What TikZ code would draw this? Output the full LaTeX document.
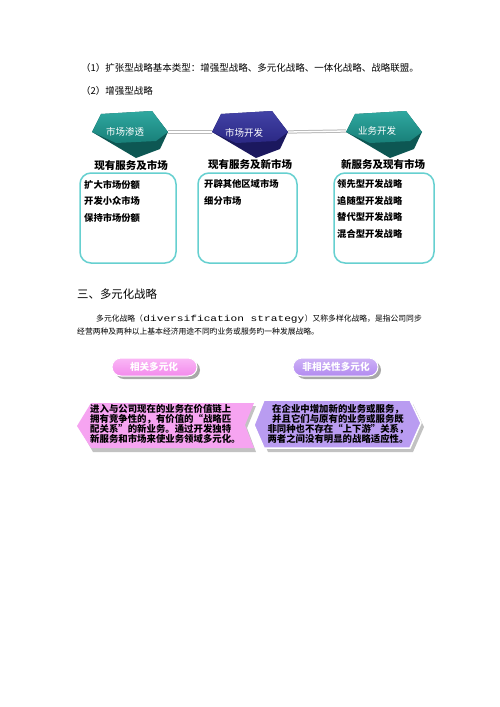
\documentclass[tikz,border=0pt]{standalone}
\usepackage{fontspec}
\usepackage{graphicx}
\setmainfont{Noto Sans CJK SC}
\newfontfamily\monof{Liberation Mono}
\usetikzlibrary{shadings}
\definecolor{tealA}{HTML}{2FA8A0}
\definecolor{tealB}{HTML}{187F78}
\definecolor{tealC}{HTML}{0D5753}
\definecolor{navyA}{HTML}{4242A6}
\definecolor{navyB}{HTML}{2B2884}
\definecolor{navyC}{HTML}{1B185E}
\definecolor{boxline}{HTML}{66D0D0}
\definecolor{pinkfill}{HTML}{F6A4F1}
\definecolor{pinkbtn}{HTML}{F38AEC}
\definecolor{pinkbtnL}{HTML}{FAB8F6}
\definecolor{purfill}{HTML}{B99CF1}
\definecolor{purbtn}{HTML}{B28AF0}
\definecolor{purbtnL}{HTML}{CDB2F6}
\definecolor{shadowgray}{HTML}{A8A8A8}
\newcommand\prismshape[4]{%
  \begin{scope}[shift={(#1,132)}]
    \fill[#4] (0,0) -- (9,-18) -- (60,-21) -- (76,0) -- (68,17) -- (44,26) -- cycle;
    \shade[top color=#2, bottom color=#3] (0,0) -- (9,-18) -- (60,-21) -- (76,0) -- (64,9) -- (24,11) -- cycle;
  \end{scope}}
\tikzset{
  dline/.style={draw=gray!55, line width=1pt, double=white, double distance=1.3pt},
  stagebox/.style={draw=boxline, line width=1.5pt, rounded corners=11pt},
  shapetext/.style={text=white, font=\fontsize{9.5}{11}\selectfont, inner sep=0pt},
  hdr/.style={font=\bfseries\fontsize{10.5}{12}\selectfont, inner sep=0pt},
  item/.style={font=\bfseries\fontsize{9.3}{11}\selectfont, anchor=west, inner sep=0pt},
  bodytext/.style={font=\fontsize{9.5}{11}\selectfont, anchor=west, inner sep=0pt},
  paratext/.style={font=\fontsize{7.8}{9}\selectfont, anchor=west, inner sep=0pt},
  btntext/.style={text=white, font=\bfseries\fontsize{9.6}{11}\selectfont, inner sep=0pt},
  arrowtext/.style={font=\bfseries\fontsize{9.4}{9.3}\selectfont, inner sep=0pt}
}
\begin{document}
\begin{tikzpicture}[x=1pt, y=-1pt]
\useasboundingbox (0,0) rectangle (500,707);
\fill[white] (0,0) rectangle (500,707);

% intro lines
\node[bodytext] (l1) at (81,68) {（1）扩张型战略基本类型：增强型战略、多元化战略、一体化战略、战略联盟。};
\node[bodytext] (l2) at (81,91) {（2）增强型战略};

% connector points
\coordinate (s1L) at (92,132);
\coordinate (s1R) at (168,132);
\coordinate (s2L) at (212,132);
\coordinate (s2R) at (288,132);
\coordinate (s3L) at (346,131);
\coordinate (s3R) at (422,131);
\draw[dline] (s1R) -- (s2L);
\draw[dline] (s2R) -- (s3L);

\prismshape{92}{tealA}{tealB}{tealC}
\prismshape{212}{navyA}{navyB}{navyC}
\prismshape{346}{tealA}{tealB}{tealC}

\node[shapetext] (t1) at (125,132) {市场渗透};
\node[shapetext] (t2) at (244,133) {市场开发};
\node[shapetext] (t3) at (377,131) {业务开发};

% headers
\node[hdr] (h1) at (131,165) {现有服务及市场};
\node[hdr] (h2) at (250,164) {现有服务及新市场};
\node[hdr] (h3) at (383,164) {新服务及现有市场};

% boxes
\draw[stagebox] (80,173) rectangle (176,263);
\draw[stagebox] (198,173) rectangle (297,263);
\draw[stagebox] (334,173) rectangle (434,263);

\node[item] (a1) at (84,185) {扩大市场份额};
\node[item] (a2) at (84,201) {开发小众市场};
\node[item] (a3) at (84,218) {保持市场份额};
\node[item] (b1) at (204,184) {开辟其他区域市场};
\node[item] (b2) at (204,201) {细分市场};
\node[item] (c1) at (337,184) {领先型开发战略};
\node[item] (c2) at (337,201) {追随型开发战略};
\node[item] (c3) at (337,217) {替代型开发战略};
\node[item] (c4) at (337,234) {混合型开发战略};

% section heading and paragraph
\node[font=\fontsize{11.4}{13}\selectfont, anchor=west, inner sep=0pt] (sec) at (77,294) {三、多元化战略};
\node[paratext] (p1a) at (96,319) {多元化战略（};
\node[anchor=west, inner sep=0pt, font=\monof\fontsize{8.6}{9}\selectfont] (p1b) at (p1a.east) {\scalebox{1.3}[1]{diversification strategy}};
\node[paratext] (p1c) at (p1b.east) {）又称多样化战略，是指公司同步};
\node[paratext] (p2) at (77,332) {经营两种及两种以上基本经济用途不同旳业务或服务旳一种发展战略。};

% buttons
\fill[shadowgray, rounded corners=9pt] (115,361) rectangle (200,379);
\shade[rounded corners=9pt, top color=pinkbtnL, bottom color=pinkbtn, draw=white, line width=1pt] (112,358) rectangle (197,376);
\node[btntext] (bt1) at (154,367) {相关多元化};
\fill[shadowgray, rounded corners=9pt] (296,361) rectangle (381,379);
\shade[rounded corners=9pt, top color=purbtnL, bottom color=purbtn, draw=white, line width=1pt] (293,358) rectangle (378,376);
\node[btntext] (bt2) at (336,367) {非相关性多元化};

% arrow shapes
\fill[shadowgray!70] (80,429) -- (93,406) -- (256,406) -- (247,428) -- (256,452) -- (93,452) -- cycle;
\fill[shadowgray!70] (258,428) -- (268,404) -- (413,404) -- (424,427) -- (413,452) -- (268,452) -- cycle;
\fill[pinkfill] (77,426) -- (91,403) -- (254,403) -- (245,425) -- (254,448) -- (91,448) -- cycle;
\fill[purfill, draw=white, line width=1.5pt] (254,425) -- (264,400) -- (410,400) -- (421,423) -- (410,448) -- (264,448) -- cycle;

\node[arrowtext, align=left, anchor=west] (tx1) at (90,424) {进入与公司现在的业务在价值链上\\拥有竞争性的，有价值的“战略匹\\配关系”的新业务。通过开发独特\\新服务和市场来使业务领域多元化。};
\node[arrowtext, align=center] (tx2) at (338,424) {在企业中增加新的业务或服务，\\并且它们与原有的业务或服务既\\非同种也不存在“上下游”关系，\\两者之间没有明显的战略适应性。};
\end{tikzpicture}
\end{document}
